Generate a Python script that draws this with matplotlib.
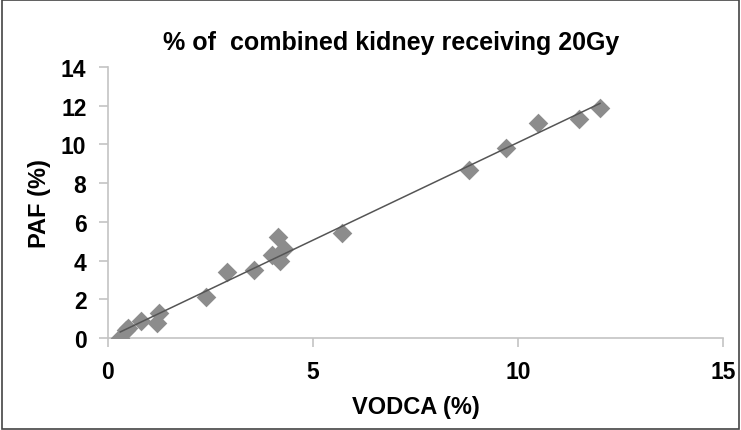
import numpy as np
import matplotlib
matplotlib.use("Agg")
import matplotlib.pyplot as plt

# VODCA (%) vs PAF (%)
vodca = [0.3, 0.45, 0.5, 0.8, 1.2, 1.25, 2.4, 2.9, 3.55, 4.0, 4.15, 4.2, 4.3, 5.7, 8.8, 9.7, 10.5, 11.5, 12.0]
paf = [0.0, 0.4, 0.5, 0.9, 0.8, 1.3, 2.1, 3.4, 3.5, 4.3, 5.2, 4.0, 4.6, 5.4, 8.7, 9.8, 11.1, 11.3, 11.9]

x_ticks = [0, 5, 10, 15]
y_ticks = [0, 2, 4, 6, 8, 10, 12, 14]

plt.rcParams['font.family'] = ['Liberation Sans', 'DejaVu Sans']

fig = plt.figure(figsize=(7.41, 4.31), dpi=100)
ax = fig.add_axes([0.1457, 0.2135, 0.83, 0.6285])

ax.scatter(vodca, paf, marker='D', s=100, color='#8c8c8c', zorder=3, linewidths=0)

# linear trendline
m, b = np.polyfit(vodca, paf, 1)
xs = np.array([min(vodca), max(vodca)])
ax.plot(xs, m * xs + b, color='#555555', lw=1.1, zorder=4)

ax.set_xlim(0, 15)
ax.set_ylim(0, 14)
ax.set_xticks(x_ticks)
ax.set_yticks(y_ticks)
for s in ['top', 'right']:
    ax.spines[s].set_visible(False)
for s in ['left', 'bottom']:
    ax.spines[s].set_color('#c4c4c4')
    ax.spines[s].set_linewidth(1.2)
ax.tick_params(colors='#c4c4c4', labelcolor='black', length=6.5, labelsize=16.5, width=1.2, pad=9)
for lab in ax.get_xticklabels() + ax.get_yticklabels():
    lab.set_fontweight('bold')

ax.set_xlabel('VODCA (%)', fontsize=17, fontweight='bold', labelpad=9)
ax.set_ylabel('PAF (%)', fontsize=17, fontweight='bold', labelpad=7)
fig.text(0.528, 0.9, '% of  combined kidney receiving 20Gy', ha='center', va='center',
         fontsize=18, fontweight='bold')

# outer frame
fig.patches.append(plt.Rectangle((0.003, 0.003), 0.994, 0.994, transform=fig.transFigure,
                                 fill=False, edgecolor='#444444', lw=1.2))

fig.savefig('out.png', dpi=100)
